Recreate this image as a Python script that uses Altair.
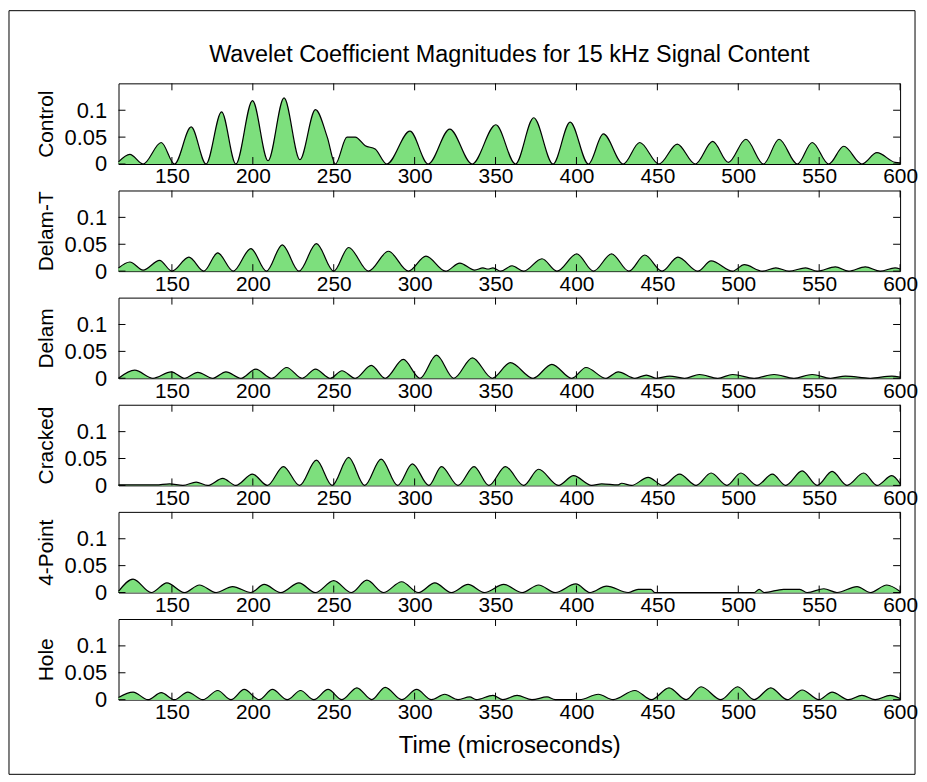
import altair as alt
import pandas as pd

# ---------------- data ----------------
title_text = "Wavelet Coefficient Magnitudes for 15 kHz Signal Content"
x_title = "Time (microseconds)"
series_names = ["Control", "Delam-T", "Delam", "Cracked", "4-Point", "Hole"]
x_ticks = [150, 200, 250, 300, 350, 400, 450, 500, 550, 600]
y_ticks = [0, 0.05, 0.1]

control_t = [117, 124, 132.2, 143.4, 151.6, 161.9, 171.1, 180.7, 189.5, 199.8, 209.4, 219.3, 229.1, 238.7,
             246, 251, 258.2, 263.3, 269.5, 275.6, 282.8, 297.1, 308.4, 321.7, 335.5, 350.2, 362.3, 373.6,
             385.5, 396.1, 407.4, 416.6, 428.9, 439.1, 451.0, 462.3, 473.4, 484.2, 493.9, 504.7, 515.6,
             525.2, 536.5, 545.7, 555.9, 565.2, 576.4, 585.7, 596.9, 600]
control_v = [0.004, 0.018, 0, 0.040, 0, 0.069, 0, 0.097, 0, 0.118, 0.006, 0.123, 0.008, 0.101,
             0.05, 0, 0.050, 0.050, 0.034, 0.028, 0, 0.061, 0, 0.065, 0, 0.073, 0, 0.086,
             0, 0.078, 0, 0.056, 0, 0.040, 0, 0.037, 0, 0.042, 0.003, 0.046, 0,
             0.046, 0, 0.040, 0, 0.033, 0, 0.021, 0.003, 0.002]

delamt_t = [117, 124, 132.2, 142.4, 150, 160.5, 169.7, 178.3, 187.9, 198.8, 208.4, 218.2, 228.5, 239.3,
            250, 259.2, 271.5, 283.8, 296.1, 307, 319.1, 327.9, 337.1, 342.2, 345.3, 348.4, 353.1, 360.2,
            367.4, 378.7, 387.9, 400.2, 410.5, 421.7, 432.4, 442.2, 452.9, 462.7, 475, 483.2, 496.5, 503.7,
            515, 523.2, 531.4, 541.6, 548.8, 560, 568.2, 578.5, 587.7, 596.9, 600]
delamt_v = [0.006, 0.017, 0.002, 0.020, 0, 0.026, 0, 0.034, 0, 0.042, 0, 0.049, 0, 0.051,
            0, 0.044, 0, 0.037, 0, 0.028, 0, 0.015, 0.002, 0.006, 0.004, 0.006, 0, 0.010,
            0, 0.023, 0, 0.032, 0, 0.032, 0, 0.030, 0, 0.026, 0, 0.019, 0, 0.012,
            0, 0.006, 0, 0.006, 0, 0.008, 0, 0.008, 0, 0.006, 0.004]

delam_t = [117, 127, 138.3, 149.6, 157.8, 166, 175.2, 183.4, 192.6, 201.8, 211.7, 220.9, 230.5, 238.7,
           247.9, 255.1, 263.3, 273.2, 281.8, 293, 303.3, 313.5, 324.2, 335.7, 348, 359.2, 373.2, 384.8,
           397.1, 405.9, 418.2, 425.8, 436.1, 443.2, 449.4, 457.6, 466.8, 476, 487.3, 496.5, 509.8, 522.1,
           534.4, 545.7, 557, 566.2, 581.6, 594.9, 600]
delam_v = [0, 0.015, 0, 0.012, 0, 0.011, 0, 0.012, 0, 0.017, 0, 0.020, 0, 0.017,
           0, 0.014, 0, 0.024, 0, 0.035, 0, 0.043, 0, 0.038, 0, 0.029, 0, 0.026,
           0, 0.020, 0, 0.012, 0, 0.006, 0, 0.004, 0, 0.007, 0, 0.007, 0, 0.007,
           0, 0.007, 0, 0.004, 0, 0.004, 0.002]

cracked_t = [117, 140, 148.6, 156.8, 165, 172.1, 181.4, 189.5, 199.8, 209, 218.9, 228.9, 239.3, 249,
             259.2, 269.1, 279.3, 289.5, 298.6, 308.8, 316.6, 326.8, 336.7, 345.9, 356.1, 367.4, 376.6,
             388.9, 398.2, 409.4, 415.6, 425.8, 427.9, 434, 444.3, 453.5, 463.7, 474, 483.2, 493, 501.6,
             511.5, 521.1, 529.3, 539.5, 548.8, 558, 567.2, 577.5, 585.7, 594.9, 600]
cracked_v = [0.001, 0.001, 0.003, 0, 0.006, 0, 0.013, 0, 0.021, 0, 0.035, 0, 0.047, 0,
             0.052, 0, 0.049, 0, 0.040, 0, 0.035, 0, 0.035, 0, 0.035, 0, 0.030,
             0, 0.018, 0, 0.003, 0.001, 0.004, 0, 0.015, 0, 0.021, 0, 0.023, 0, 0.023,
             0, 0.021, 0, 0.027, 0, 0.026, 0, 0.023, 0, 0.018, 0.003]

fourpt_t = [117, 126, 137.3, 146.9, 157.8, 167, 177.3, 187.5, 198.8, 207, 217.2, 228.5, 238.7, 250,
            260.9, 270.5, 280.7, 292, 302.3, 312.5, 322.7, 333, 343.2, 355.1, 366.4, 376.6, 386.9,
            399.6, 408.4, 418.6, 432, 438.1, 446, 448.4, 510, 512.9, 516, 528, 538, 542.6, 552.9,
            561, 573.4, 581.6, 591.8, 600]
fourpt_v = [0.002, 0.025, 0, 0.018, 0, 0.014, 0, 0.011, 0, 0.015, 0, 0.018, 0, 0.022,
            0, 0.023, 0, 0.020, 0, 0.018, 0, 0.015, 0, 0.015, 0, 0.014, 0,
            0.016, 0, 0.012, 0, 0.006, 0.006, 0, 0, 0.006, 0, 0.006, 0.006, 0, 0.007,
            0, 0.011, 0, 0.014, 0.002]

hole_t = [117, 126, 135.2, 143.4, 151.6, 159.8, 169.1, 178.3, 186.5, 194.7, 203.9, 212.1, 221.3, 229.5,
          237.7, 246.5, 255.1, 264.3, 273.5, 281.8, 292, 301.2, 310.4, 318.6, 326.8, 334, 338.1, 348.4,
          354.5, 363.3, 372.5, 381.8, 386.9, 402, 413.5, 422.7, 436.1, 446.3, 457.2, 467.8, 477, 489.3,
          499.6, 509.8, 520.1, 530.3, 539.5, 549.8, 558, 568.2, 576.4, 584.6, 593.9, 600]
hole_v = [0.004, 0.014, 0, 0.013, 0, 0.014, 0, 0.017, 0, 0.019, 0, 0.019, 0, 0.017,
          0, 0.019, 0, 0.022, 0, 0.023, 0, 0.019, 0, 0.010, 0, 0.005, 0, 0.008,
          0, 0.008, 0, 0.005, 0, 0, 0.010, 0, 0.017, 0, 0.022, 0, 0.024, 0,
          0.024, 0, 0.022, 0, 0.018, 0, 0.014, 0, 0.008, 0, 0.008, 0.002]

series_t = [control_t, delamt_t, delam_t, cracked_t, fourpt_t, hole_t]
series_v = [control_v, delamt_v, delam_v, cracked_v, fourpt_v, hole_v]

# ---------------- styling ----------------
W, H = 785, 81
GREEN = "#7ddf7d"
FONT = "Liberation Sans"
TICK = 7
X_DOMAIN = [117, 600]
Y_DOMAIN = [0, 0.15]
LABEL_SIZE = 22
TITLE_SIZE = 21

xt_df = pd.DataFrame({"t": x_ticks})
yt_df = pd.DataFrame({"v": y_ticks})


def make_panel(i):
    df = pd.DataFrame({"t": series_t[i], "v": series_v[i]})
    last = i == len(series_names) - 1
    x_axis = alt.Axis(values=x_ticks, ticks=False, domain=False, grid=False,
                      labelFontSize=21, labelPadding=2, labelFlush=False,
                      title=x_title if last else "", titleFontSize=24,
                      titleFontWeight="normal", titlePadding=11)
    y_axis = alt.Axis(values=y_ticks, ticks=False, domain=False, grid=False,
                      format=".2~f", labelFontSize=LABEL_SIZE, labelPadding=12,
                      title=series_names[i], titleFontSize=TITLE_SIZE,
                      titleFontWeight="normal", titlePadding=7)
    xs = alt.Scale(domain=X_DOMAIN, nice=False, zero=False)
    ys = alt.Scale(domain=Y_DOMAIN, nice=False)
    X = alt.X("t:Q", scale=xs, axis=x_axis)
    Y = alt.Y("v:Q", scale=ys, axis=y_axis)
    area = alt.Chart(df).mark_area(
        color=GREEN, interpolate="monotone", opacity=1,
        line=alt.OverlayMarkDef(color="black", strokeWidth=1.2),
    ).encode(x=X, y=Y)
    xb = alt.Chart(xt_df).mark_rule(color="black").encode(
        x=X, y=alt.value(H), y2=alt.value(H - TICK))
    xtop = alt.Chart(xt_df).mark_rule(color="black").encode(
        x=X, y=alt.value(0), y2=alt.value(TICK))
    yl = alt.Chart(yt_df).mark_rule(color="black").encode(
        y=Y, x=alt.value(0), x2=alt.value(TICK))
    yr = alt.Chart(yt_df).mark_rule(color="black").encode(
        y=Y, x=alt.value(W), x2=alt.value(W - TICK))
    layers = [area, xb, xtop, yl, yr]
    if i == 0:
        frame = alt.Chart(xt_df.head(1)).mark_rect(
            fill="white", fillOpacity=0, stroke="black", strokeWidth=1
        ).encode(x=alt.value(-110), x2=alt.value(800), y=alt.value(-73), y2=alt.value(694))
        ttl = alt.Chart(xt_df.head(1)).mark_text(
            text=title_text, font=FONT, fontSize=23.5, color="black",
            align="center", baseline="middle"
        ).encode(x=alt.value(W / 2), y=alt.value(-28))
        layers = [frame, ttl] + layers
    return alt.layer(*layers).properties(width=W, height=H)


panels = [make_panel(i) for i in range(len(series_names))]

chart = alt.vconcat(*panels, spacing=26.6, bounds="flush").properties(
    padding=0, background="white"
).configure_view(
    stroke="black", strokeWidth=1, fill="white"
).configure_axis(
    labelFont=FONT, titleFont=FONT, labelColor="black", titleColor="black"
)

chart.save("out.html", embed_options={"renderer": "svg", "actions": False})
